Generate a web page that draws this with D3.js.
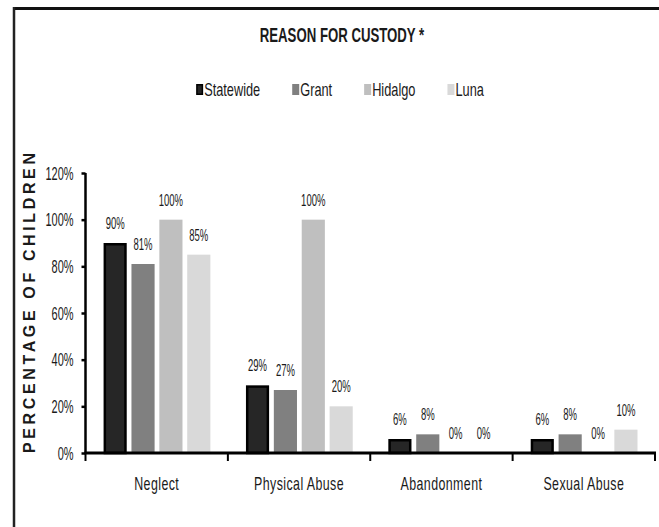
<!DOCTYPE html>
<html><head><meta charset="utf-8">
<script src="https://cdn.jsdelivr.net/npm/d3@7"></script>
<style>
html,body{margin:0;padding:0;background:#fff;}
text{font-family:"Liberation Sans",Arial,sans-serif;fill:#1a1a1a;}
</style></head>
<body>
<svg id="chart" width="659" height="527"></svg>
<script>
const categories = ["Neglect","Physical Abuse","Abandonment","Sexual Abuse"];
const seriesNames = ["Statewide","Grant","Hidalgo","Luna"];
const statewide = [90,29,6,6];
const grant = [81,27,8,8];
const hidalgo = [100,100,0,0];
const luna = [85,20,0,10];
const yTicks = [0,20,40,60,80,100,120];
const title = "REASON FOR CUSTODY *";
const yTitle = "PERCENTAGE OF CHILDREN";

(function(){
const seriesValues = [statewide, grant, hidalgo, luna];
const colors = ["#262626","#808080","#bfbfbf","#d9d9d9"];

const svg = d3.select("#chart");
const W = 659, H = 527;

// frame
svg.append("line").attr("x1",13).attr("x2",W).attr("y1",8.5).attr("y2",8.5)
  .attr("stroke","#111").attr("stroke-width",3);
svg.append("line").attr("x1",14).attr("x2",14).attr("y1",7).attr("y2",H)
  .attr("stroke","#222").attr("stroke-width",2.5);

const pL = 85.5, pR = 655, pT = 173, pB = 453;

const x0 = d3.scaleBand().domain(categories).range([pL, pR]).padding(0);
const bw = x0.bandwidth();
const x1 = d3.scaleBand().domain(seriesNames).range([bw*0.127, bw*0.877]).paddingInner(0.17).paddingOuter(0);
const y = d3.scaleLinear().domain([0,120]).range([pB, pT]);

function squish(sel, sx){
  sel.each(function(){
    const t = d3.select(this);
    const x = +t.attr("x") || 0;
    const yy = +t.attr("y") || 0;
    t.attr("x", 0).attr("y", 0)
     .attr("transform", `translate(${x},${yy}) scale(${sx},1)`);
  });
}

// bars
const groups = svg.append("g").selectAll("g").data(categories).join("g")
  .attr("transform", d => `translate(${x0(d)},0)`);

groups.each(function(cat, ci){
  const g = d3.select(this);
  seriesNames.forEach((s, si) => {
    const v = seriesValues[si][ci];
    if (v > 0) {
      const r = g.append("rect")
        .attr("x", x1(s)).attr("width", x1.bandwidth())
        .attr("y", y(v)).attr("height", y(0) - y(v))
        .attr("fill", colors[si]);
      if (si === 0) {
        r.attr("stroke","#000").attr("stroke-width",2.5)
         .attr("x", x1(s)+1.25).attr("width", x1.bandwidth()-2.5)
         .attr("y", y(v)+1.25).attr("height", y(0)-y(v)-1.25);
      }
    }
    const lbl = g.append("text")
      .attr("x", x1(s) + x1.bandwidth()/2)
      .attr("y", y(v) - 14)
      .attr("text-anchor","middle")
      .style("font-size","17px")
      .text(v + "%");
    squish(lbl, 0.56);
  });
});

// y axis
const yAxis = svg.append("g").attr("transform", `translate(${pL},0)`)
  .call(d3.axisLeft(y).tickValues(yTicks).tickFormat(d => d + "%").tickSize(4).tickSizeOuter(0));
yAxis.select(".domain").attr("stroke","#000").attr("stroke-width",2.5)
  .attr("d", `M0,${pT}V${pB}`);
yAxis.selectAll(".tick line").attr("stroke","#000").attr("stroke-width",2.5);
yAxis.selectAll(".tick text").style("font-size","18px").attr("fill","#1a1a1a")
  .attr("dy", null).attr("dominant-baseline","central").attr("x", -12);
squish(yAxis.selectAll(".tick text"), 0.61);

// x axis
const xAxis = svg.append("g").attr("transform", `translate(0,${pB})`);
xAxis.append("line").attr("x1", pL-1).attr("x2", pR+1).attr("y1",0).attr("y2",0)
  .attr("stroke","#000").attr("stroke-width",3);
const bounds = categories.map(c => x0(c)).concat([pR]);
xAxis.selectAll("line.tk").data(bounds).join("line").attr("class","tk")
  .attr("x1", d => d).attr("x2", d => d).attr("y1", 0).attr("y2", 8)
  .attr("stroke","#000").attr("stroke-width",2);
const catLbl = xAxis.selectAll("text.cat").data(categories).join("text").attr("class","cat")
  .attr("x", d => x0(d) + bw/2).attr("y", 37)
  .attr("text-anchor","middle").style("font-size","18px").style("letter-spacing","0.6px").text(d => d);
squish(catLbl, 0.69);

// title
const t = svg.append("text").attr("x", 342).attr("y", 42).attr("text-anchor","middle")
  .style("font-size","20px").style("font-weight","bold").text(title);
squish(t, 0.66);

// y title
svg.append("text").attr("transform","translate(35,303) rotate(-90)")
  .attr("text-anchor","middle").style("font-size","16px").style("font-weight","bold")
  .attr("textLength", 300).attr("lengthAdjust","spacing")
  .text(yTitle);

// legend
const leg = svg.append("g");
const items = seriesNames.map((s, i) => {
  const g = leg.append("g");
  const r = g.append("rect").attr("x",0).attr("y",-12).attr("width",7).attr("height",11)
    .attr("fill", colors[i]);
  if (i === 0) r.attr("stroke","#000").attr("stroke-width",1.5).attr("x",0.75).attr("width",5.5).attr("y",-11.25).attr("height",9.5);
  const tx = g.append("text").attr("x", 8).attr("y", 0).style("font-size","18px").text(s);
  squish(tx, 0.71);
  const w = 8 + tx.node().getComputedTextLength()*0.71;
  return {g, w};
});
const gap = 32;
const total = d3.sum(items, d => d.w) + gap*(items.length-1);
let cx = 340 - total/2;
items.forEach(it => { it.g.attr("transform", `translate(${cx},96)`); cx += it.w + gap; });
})();
</script>
</body></html>
